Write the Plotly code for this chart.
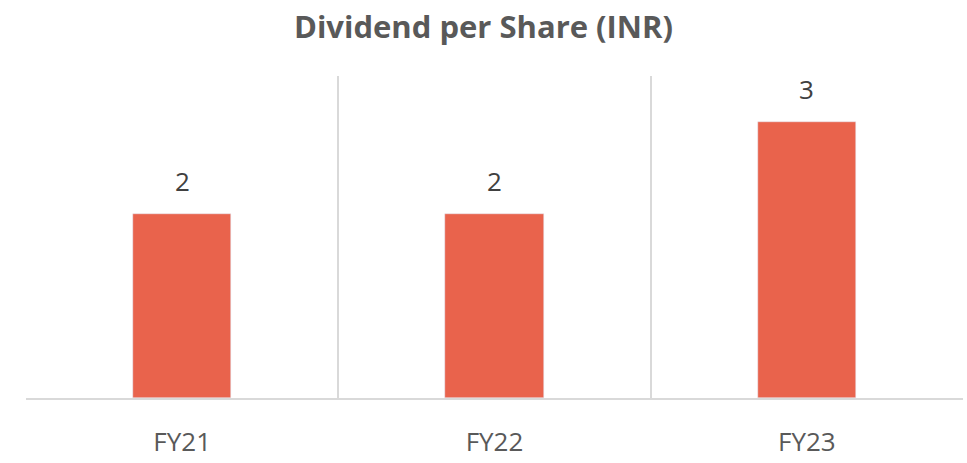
import plotly.graph_objects as go

categories = ["FY21", "FY22", "FY23"]
dividend = [2, 2, 3]

BAR_COLOR = "#E9634C"
GRID = "#D9D9D9"
LABEL = "#404040"
TICK = "#595959"

x_pos = list(range(len(categories)))
bounds = [i - 0.5 for i in range(len(categories) + 1)]

fig = go.Figure(go.Bar(
    x=x_pos, y=dividend,
    width=0.314,
    marker_color=BAR_COLOR,
    hoverinfo="x+y",
))

# value labels sit well above the bar tops, as in the source chart
for xi, v in zip(x_pos, dividend):
    fig.add_annotation(x=xi, y=v, text=str(v), showarrow=False,
                       yanchor="bottom", yshift=13,
                       font=dict(size=26, color=LABEL))

fig.update_layout(
    width=967, height=463,
    font_family="Open Sans, Arial, sans-serif",
    paper_bgcolor="white", plot_bgcolor="white",
    title=dict(text="<b>Dividend per Share (INR)</b>", x=0.5, xanchor="center",
               y=1 - 27 / 463, yanchor="middle",
               font=dict(size=31, color=TICK)),
    margin=dict(l=26, r=4, t=76, b=54),
    showlegend=False,
    bargap=0,
)
fig.update_xaxes(
    range=[-0.5, len(categories) - 0.5],
    tickvals=x_pos, ticktext=categories,
    tickfont=dict(size=26, color=TICK),
    showgrid=False, zeroline=False,
    showline=True, linecolor=GRID, linewidth=2,
    ticks="", ticklabelstandoff=20,
    minor=dict(tickvals=bounds, showgrid=True, gridcolor=GRID, gridwidth=2, ticks=""),
)
fig.update_yaxes(range=[0, 3.5], visible=False)

# drop the default body margin so the figure fills the window exactly
page_js = (
    "document.body.style.margin='0';"
    "document.body.style.overflow='hidden';"
    "document.documentElement.style.overflow='hidden';"
)
fig.write_html("out.html", config={"displayModeBar": False}, post_script=page_js)
